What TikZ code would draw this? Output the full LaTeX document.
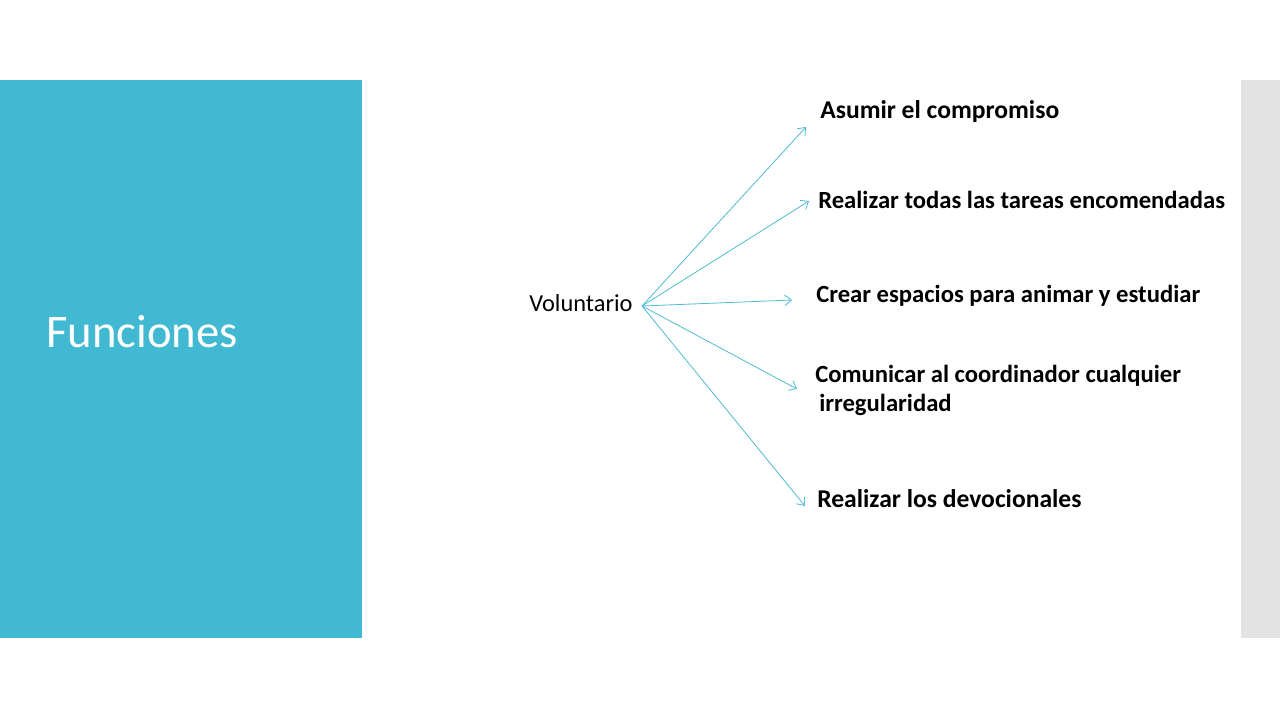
\documentclass[tikz,border=0pt]{standalone}
\usepackage{fontspec}
\setmainfont{Carlito}
\usetikzlibrary{arrows.meta}
\definecolor{panelblue}{HTML}{41B9D2}
\definecolor{sidegray}{HTML}{E3E3E3}
\definecolor{arrowblue}{HTML}{4FBCD3}
\tikzset{
  item/.style={anchor=west, inner sep=0pt, font=\fontsize{18.5}{22}\selectfont\bfseries, text=black},
  bigitem/.style={item, font=\fontsize{19.2}{23}\selectfont\bfseries},
  conn/.style={draw=arrowblue, line width=0.6pt, -{Straight Barb[length=5pt,width=8pt]}}
}
\begin{document}
\begin{tikzpicture}[x=0.75pt,y=-0.75pt]
\useasboundingbox (0,0) rectangle (1280,720);
\fill[white] (0,0) rectangle (1280,720);
\fill[panelblue] (0,80) rectangle (362,638);
\fill[sidegray] (1241,80) rectangle (1280,638);
\node[anchor=west, inner sep=0pt, text=white, font=\fontsize{35}{42}\selectfont] (title) at (46,332) {Funciones};
\node[anchor=west, inner sep=0pt, font=\fontsize{18.3}{22}\selectfont] (vol) at (529,303) {Voluntario};
\coordinate (o) at (642,306);
\coordinate (t1) at (806,127);
\coordinate (t2) at (809,201);
\coordinate (t3) at (792,300);
\coordinate (t4) at (797,389);
\coordinate (t5) at (805,506);
\node[bigitem] (a1) at (820,112) {Asumir el compromiso};
\node[item] (a2) at (818,200) {Realizar todas las tareas encomendadas};
\node[item] (a3) at (816,296) {Crear espacios para animar y estudiar};
\node[item] (a4) at (815,376) {Comunicar al coordinador cualquier};
\node[item] (a4b) at (819,405) {irregularidad};
\node[bigitem] (a5) at (817,499) {Realizar los devocionales};
\foreach \t in {t1,t2,t3,t4,t5} \draw[conn] (o) -- (\t);
\end{tikzpicture}
\end{document}
